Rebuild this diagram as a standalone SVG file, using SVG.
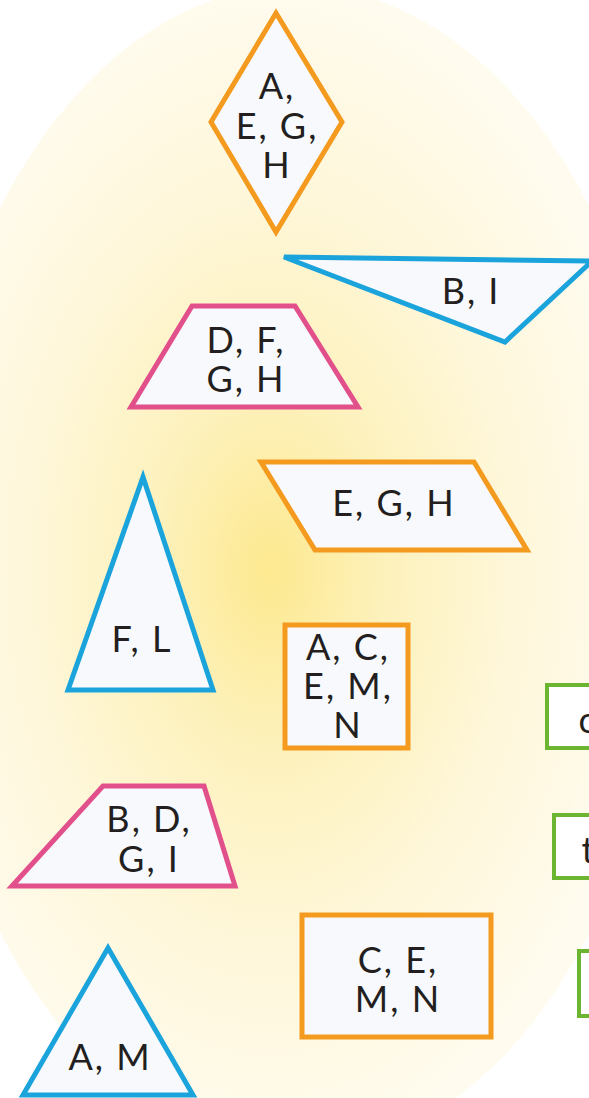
<svg xmlns="http://www.w3.org/2000/svg" width="589" height="1098" viewBox="0 0 589 1098">
<style>
.o{fill:#f8f9fc;stroke:#f39a1f;stroke-width:5;stroke-linejoin:miter}
.p{fill:#f8f9fc;stroke:#e2508b;stroke-width:5}
.b{fill:#f8f9fc;stroke:#1ba3dc;stroke-width:5}
.g{fill:#ffffff;stroke:#6cb530;stroke-width:4}
text{font-family:Lato,"Open Sans","Liberation Sans",sans-serif;font-size:36px;letter-spacing:2px;fill:#231f20;text-anchor:middle}
</style>
<defs>
<radialGradient id="bg" cx="0.467" cy="0.5" r="0.5" fx="0.467" fy="0.5">
<stop offset="0" stop-color="#fde98f"/>
<stop offset="0.3" stop-color="#fdf1bb"/>
<stop offset="0.65" stop-color="#fef7da"/>
<stop offset="1" stop-color="#fffbee"/>
</radialGradient>
</defs>
<rect width="589" height="1098" fill="#ffffff"/>
<ellipse cx="295" cy="570" rx="376" ry="584" fill="url(#bg)"/>
<g id="connectors"/>
<g id="n-rhombus">
<polygon class="o" points="276,13 342,122 276,232 211,122"/>
<text x="277" y="99">A,</text>
<text x="277" y="139">E, G,</text>
<text x="277" y="178">H</text>
</g>
<g id="n-tri-bi">
<polygon class="b" points="284,257 592,261 505,342"/>
<text x="471" y="304">B, I</text>
</g>
<g id="n-trap-dfgh">
<polygon class="p" points="192,306 295,306 358,407 131,407"/>
<text x="246" y="353">D, F,</text>
<text x="246" y="392">G, H</text>
</g>
<g id="n-para-egh">
<polygon class="o" points="261,462 474,462 527,550 315,550"/>
<text x="394" y="516">E, G, H</text>
</g>
<g id="n-tri-fl">
<polygon class="b" points="143,477 213,690 68,690"/>
<text x="142" y="652">F, L</text>
</g>
<g id="n-square">
<rect class="o" x="285" y="625" width="123" height="123"/>
<text x="348" y="660">A, C,</text>
<text x="348" y="699">E, M,</text>
<text x="348" y="738">N</text>
</g>
<g id="n-green1">
<rect class="g" x="547" y="685" width="60" height="63"/>
<text x="588" y="733">c</text>
</g>
<g id="n-green2">
<rect class="g" x="554" y="815" width="60" height="63"/>
<text x="589" y="863">t</text>
</g>
<g id="n-green3">
<rect class="g" x="579" y="951" width="40" height="65"/>
</g>
<g id="n-trap-bdgi">
<polygon class="p" points="103,786 204,786 235,886 12,886"/>
<text x="149" y="832">B, D,</text>
<text x="149" y="872">G, I</text>
</g>
<g id="n-rect-cemn">
<rect class="o" x="302" y="915" width="189" height="122"/>
<text x="398" y="973">C, E,</text>
<text x="398" y="1012">M, N</text>
</g>
<g id="n-tri-am">
<polygon class="b" points="108,948 193,1095 23,1095"/>
<text x="110" y="1070">A, M</text>
</g>
</svg>
